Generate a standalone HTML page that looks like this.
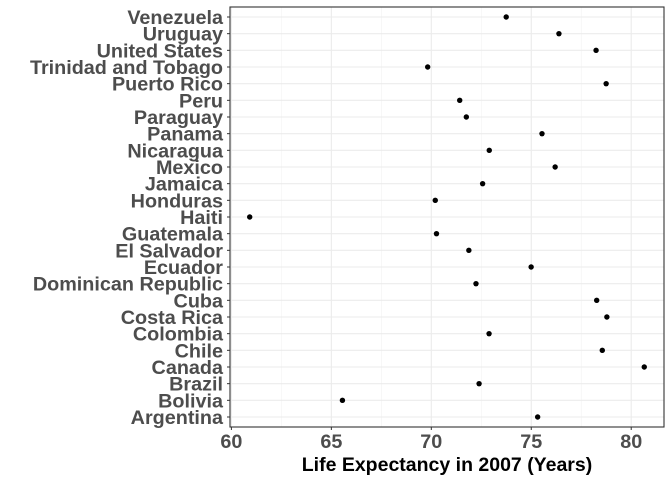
<!DOCTYPE html>
<html><head><meta charset="utf-8"><style>body{margin:0;background:#fff}svg{display:block}</style></head>
<body>
<svg id="chart" width="672" height="480" xmlns="http://www.w3.org/2000/svg" font-family="Liberation Sans, sans-serif"></svg>
<script>
const countries=["Argentina","Bolivia","Brazil","Canada","Chile","Colombia","Costa Rica","Cuba","Dominican Republic","Ecuador","El Salvador","Guatemala","Haiti","Honduras","Jamaica","Mexico","Nicaragua","Panama","Paraguay","Peru","Puerto Rico","Trinidad and Tobago","United States","Uruguay","Venezuela"];
const lifeExp=[75.32,65.554,72.39,80.653,78.553,72.889,78.782,78.273,72.235,74.994,71.878,70.259,60.916,70.198,72.567,76.195,72.899,75.537,71.752,71.421,78.746,69.819,78.242,76.384,73.747];
const xTicks=[60,65,70,75,80];
const xMinor=[62.5,67.5,72.5,77.5];
const svg=document.getElementById('chart');
const NS='http://www.w3.org/2000/svg';
const L=230,R=664,T=7,B=427;
const xmin=59.93,xmax=81.64;
const x=v=>L+(v-xmin)/(xmax-xmin)*(R-L);
const step=(B-T)/(countries.length+0.2);
const y=i=>B-(0.6+i)*step;
function mk(tag,attrs){const e=document.createElementNS(NS,tag);for(const k in attrs)e.setAttribute(k,attrs[k]);svg.appendChild(e);return e;}
xMinor.forEach(v=>{const e=mk('line',{x1:x(v),x2:x(v),y1:T,y2:B,stroke:'#f2f2f2','stroke-width':0.6});

});
xTicks.forEach(v=>{const e=mk('line',{x1:x(v),x2:x(v),y1:T,y2:B,stroke:'#ebebeb','stroke-width':1.1});

});
countries.forEach((c,i)=>{const e=mk('line',{x1:L,x2:R,y1:y(i),y2:y(i),stroke:'#ebebeb','stroke-width':1.1});

});
countries.forEach((c,i)=>{
const p=mk('circle',{cx:x(lifeExp[i]),cy:y(i),r:2.7,fill:'#000'});


const t=mk('text',{x:L-7,y:y(i)+7,'text-anchor':'end','font-size':19.8,'font-weight':'bold',fill:'#4d4d4d'});
t.textContent=c;


const tk=mk('line',{x1:L-3,x2:L,y1:y(i),y2:y(i),stroke:'#333','stroke-width':1});


});
xTicks.forEach(v=>{
const tk=mk('line',{x1:x(v),x2:x(v),y1:B,y2:B+3,stroke:'#333','stroke-width':1});


const t=mk('text',{x:x(v),y:B+21,'text-anchor':'middle','font-size':19.8,'font-weight':'bold',fill:'#4d4d4d'});
t.textContent=v;


});
const f=mk('rect',{x:L,y:T,width:R-L,height:B-T,fill:'none',stroke:'#333','stroke-width':1.1});


const at=mk('text',{x:(L+R)/2,y:471,'text-anchor':'middle','font-size':19.5,'font-weight':'bold',fill:'#000'});
at.textContent='Life Expectancy in 2007 (Years)';


</script>
</body></html>
